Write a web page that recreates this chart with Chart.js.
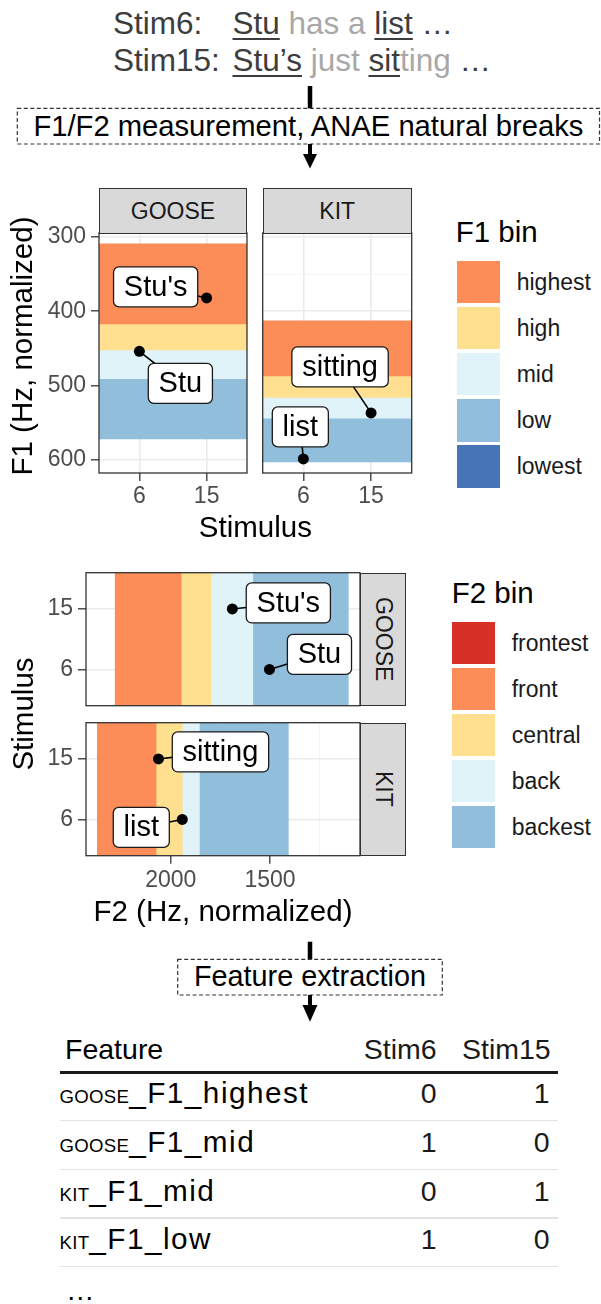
<!DOCTYPE html>
<html>
<head>
<meta charset="utf-8">
<script src="https://cdn.jsdelivr.net/npm/chart.js@4.4.1/dist/chart.umd.min.js"></script>
<style>
html, body { margin: 0; padding: 0; background: #fff; }
body { width: 601px; height: 1304px; position: relative; overflow: hidden;
       font-family: "Liberation Sans", Arial, sans-serif; color: #1a1a1a; }
.abs { position: absolute; white-space: nowrap; }
canvas { position: absolute; }
.sent { font-size: 31.5px; line-height: 31.5px; color: #3d3d3d; }
.sent .lab { display: inline-block; width: 119.5px; }
.sent u { text-decoration-thickness: 2px; text-underline-offset: 4px; }
.sent .g { color: #a8a8a8; }
.strip { position: absolute; box-sizing: border-box; background: #d9d9d9; border: 1.3px solid #333;
         display: flex; align-items: center; justify-content: center; font-size: 23px; color: #1a1a1a; }
.vert { writing-mode: vertical-rl; }
.title { font-size: 29.5px; color: #000; }
.sc { font-size: 18.6px; letter-spacing: 0.3px; }
</style>
</head>
<body>

<div class="abs sent" style="left:113px;top:7.6px"><span class="lab">Stim6:</span><u>Stu</u><span class="g"> has a </span><u>list</u> …</div>
<div class="abs sent" style="left:113px;top:45px"><span class="lab">Stim15:</span><u>Stu’s</u><span class="g"> just </span><u>sit</u><span class="g">ting</span> …</div>

<svg class="abs" width="601" height="1304" style="left:0;top:0">
  <line x1="310" y1="86" x2="310" y2="108.3" stroke="#000" stroke-width="4.5"/>
  <rect x="17.3" y="108.3" width="582.2" height="35.7" fill="none" stroke="#333" stroke-width="1.2" stroke-dasharray="4 2.5"/>
  <line x1="310" y1="144" x2="310" y2="156" stroke="#000" stroke-width="4"/>
  <polygon points="303,154 317,154 310,168.5" fill="#000"/>
  <line x1="310" y1="941.7" x2="310" y2="959.3" stroke="#000" stroke-width="4.5"/>
  <rect x="177.7" y="959.3" width="264.6" height="35.7" fill="none" stroke="#333" stroke-width="1.2" stroke-dasharray="4 2.5"/>
  <line x1="310" y1="995" x2="310" y2="1007" stroke="#000" stroke-width="4"/>
  <polygon points="302.5,1005 317.5,1005 310,1021.7" fill="#000"/>
</svg>

<div class="abs" style="left:17.3px;width:582.2px;text-align:center;font-size:29.2px;line-height:29.2px;top:112px;color:#000">F1/F2 measurement, ANAE natural breaks</div>
<div class="abs" style="left:177.7px;width:264.6px;text-align:center;font-size:28.8px;line-height:28.8px;top:962.3px;color:#000">Feature extraction</div>

<!-- F1 chart -->
<canvas id="f1goose" width="252" height="308" style="left:0;top:210px"></canvas>
<canvas id="f1kit" width="160" height="308" style="left:257px;top:210px"></canvas>
<div class="strip" style="left:99px;top:188px;width:148px;height:46px">GOOSE</div>
<div class="strip" style="left:262.7px;top:188px;width:149px;height:46px">KIT</div>
<div class="abs title" style="left:-128px;top:329px;width:300px;height:34px;line-height:34px;text-align:center;transform:rotate(-90deg)">F1 (Hz, normalized)</div>
<div class="abs title" style="left:155.4px;width:200px;text-align:center;line-height:29.5px;top:512.3px">Stimulus</div>

<!-- F2 chart -->
<div class="strip vert" style="left:360px;top:572.7px;width:46px;height:133px">GOOSE</div>
<div class="strip vert" style="left:360px;top:722.7px;width:46px;height:133px">KIT</div>
<canvas id="f2goose" width="366" height="144" style="left:0;top:567px"></canvas>
<canvas id="f2kit" width="366" height="190" style="left:0;top:717px"></canvas>
<div class="abs title" style="left:-127px;top:697px;width:300px;height:34px;line-height:34px;text-align:center;transform:rotate(-90deg)">Stimulus</div>
<div class="abs title" style="left:73px;width:300px;text-align:center;line-height:29.5px;top:896px">F2 (Hz, normalized)</div>

<script>
// ---- data ----
var stimuli = ['6', '15'];

var f1Bins = ['highest', 'high', 'mid', 'low', 'lowest'];
var f1Colors = ['#fc8d59', '#fee090', '#e0f3f8', '#91bfdb', '#4575b4'];
var f2Bins = ['frontest', 'front', 'central', 'back', 'backest'];
var f2Colors = ['#d73027', '#fc8d59', '#fee090', '#e0f3f8', '#91bfdb'];

// bin edges in Hz, [lo, hi] per bin (null = bin not shown for this vowel)
var gooseF1Breaks = [[309, 417], [417, 452], [452, 491], [491, 572], null];
var kitF1Breaks = [[413, 487], [487, 516], [516, 544], [544, 603], null];
var gooseF2Breaks = [null, [1948, 2280], [1797, 1948], [1587, 1797], [1106, 1587]];
var kitF2Breaks = [null, [2074, 2370], [1942, 2074], [1856, 1942], [1408, 1856]];

// one token per stimulus (Stim6, Stim15)
var gooseWords = ['Stu', "Stu's"];
var kitWords = ['list', 'sitting'];
var gooseF1 = [454, 382];
var kitF1 = [599, 537];
var gooseF2 = [1503, 1690];
var kitF2 = [1942, 2062];

var f1Ticks = [300, 400, 500, 600];
var f1Minor = [350, 450, 550];
var f2Ticks = [1500, 2000];
var f2Minor = [1250, 1750, 2250];

// table
var featureVowels = ['GOOSE', 'GOOSE', 'KIT', 'KIT'];
var featureNames = ['_F1_highest', '_F1_mid', '_F1_mid', '_F1_low'];
var stim6Values = [0, 1, 0, 1];
var stim15Values = [1, 0, 1, 0];

// ---- layout ----
var f1Limits = [294.5, 618];
var f2Limits = [1047, 2427];
var labelOffsets = {
  f1goose: [[41, 32], [-51, -11]],
  f1kit: [[-3, -32], [-31, -46]],
  f2goose: [[50, -15], [56, -6]],
  f2kit: [[-41, 8], [62, -7]]
};
var FONT = '"Liberation Sans", Arial, sans-serif';
Chart.defaults.font.family = FONT;

function roundRect(ctx, x, y, w, h, r) {
  ctx.beginPath();
  ctx.moveTo(x + r, y);
  ctx.arcTo(x + w, y, x + w, y + h, r);
  ctx.arcTo(x + w, y + h, x, y + h, r);
  ctx.arcTo(x, y + h, x, y, r);
  ctx.arcTo(x, y, x + w, y, r);
  ctx.closePath();
}

// panel border + repel-style labels
var panelPlugin = {
  id: 'panel',
  afterDatasetsDraw: function (chart, args, opts) {
    var ctx = chart.ctx, a = chart.chartArea;
    ctx.save();
    ctx.strokeStyle = '#333333';
    ctx.lineWidth = 1.3;
    ctx.strokeRect(a.left, a.top, a.right - a.left, a.bottom - a.top);

    var meta = chart.getDatasetMeta(0);
    ctx.font = '29px ' + FONT;
    ctx.textAlign = 'center';
    ctx.textBaseline = 'middle';
    (opts.labels || []).forEach(function (lab, i) {
      var p = meta.data[i];
      var w = ctx.measureText(lab.text).width + 20.6, h = 40;
      var cx = p.x + lab.dx, cy = p.y + lab.dy;
      var dx = p.x - cx, dy = p.y - cy;
      var tx = dx !== 0 ? (w / 2) / Math.abs(dx) : Infinity;
      var ty = dy !== 0 ? (h / 2) / Math.abs(dy) : Infinity;
      var t = Math.min(tx, ty);
      if (t < 1) {
        ctx.beginPath();
        ctx.moveTo(p.x, p.y);
        ctx.lineTo(cx + dx * t, cy + dy * t);
        ctx.strokeStyle = '#000';
        ctx.lineWidth = 1.6;
        ctx.stroke();
      }
      roundRect(ctx, cx - w / 2, cy - h / 2, w, h, 5.5);
      ctx.fillStyle = '#fff';
      ctx.fill();
      ctx.strokeStyle = '#1a1a1a';
      ctx.lineWidth = 1.3;
      ctx.stroke();
      ctx.fillStyle = '#000';
      ctx.fillText(lab.text, cx, cy + 1);
    });
    ctx.restore();
  }
};

function isMajor(list, c) { return c.tick && list.indexOf(c.tick.value) >= 0; }
function setTicks(vals) {
  return function (s) { s.ticks = vals.map(function (v) { return { value: v }; }); };
}
// force the axis thickness and drop the label overflow padding
function fixSize(size, horizontal) {
  return function (s) {
    if (horizontal) s.height = size; else s.width = size;
    s.paddingTop = 0; s.paddingBottom = 0; s.paddingLeft = 0; s.paddingRight = 0;
  };
}
function valueAxis(major, minor, limits, showTicks, size, horizontal) {
  var all = major.concat(minor).sort(function (a, b) { return a - b; });
  return {
    type: 'linear', min: limits[0], max: limits[1], reverse: true, offset: false,
    afterBuildTicks: setTicks(all),
    afterFit: fixSize(size, horizontal),
    ticks: {
      display: showTicks, autoSkip: false, maxRotation: 0, minRotation: 0,
      color: '#4d4d4d', font: { size: 23 },
      padding: horizontal ? 3 : 5,
      callback: function (v) { return major.indexOf(v) >= 0 ? String(v) : ''; }
    },
    grid: {
      offset: false, drawTicks: showTicks, tickLength: 8, tickWidth: 1.3,
      color: function (c) { return isMajor(major, c) ? '#ebebeb' : '#f4f4f4'; },
      lineWidth: function (c) { return isMajor(major, c) ? 1.6 : 0.9; },
      tickColor: function (c) { return isMajor(major, c) ? '#333333' : 'rgba(0,0,0,0)'; }
    },
    border: { display: false }
  };
}
function stimAxis(showTicks, size, horizontal) {
  return {
    type: 'linear', min: 0.4, max: 2.6, offset: false,
    afterBuildTicks: setTicks([1, 2]),
    afterFit: fixSize(size, horizontal),
    ticks: {
      display: showTicks, autoSkip: false, maxRotation: 0, minRotation: 0,
      color: '#4d4d4d', font: { size: 23 },
      padding: horizontal ? 2 : 5,
      callback: function (v) { return stimuli[v - 1]; }
    },
    grid: { offset: false, drawTicks: showTicks, tickLength: 8, tickWidth: 1.3,
            color: '#ebebeb', lineWidth: 1.6, tickColor: '#333333' },
    border: { display: false }
  };
}

function makePanel(id, breaks, colors, values, words, f1, showValue, padding) {
  var datasets = [{
    type: 'scatter', order: 0,
    data: values.map(function (v, i) { return f1 ? { x: i + 1, y: v } : { x: v, y: i + 1 }; }),
    xAxisID: 'x', yAxisID: 'y',
    backgroundColor: '#000', borderWidth: 0, pointRadius: 5.5, pointHoverRadius: 5.5
  }];
  breaks.forEach(function (b, i) {
    if (!b) return;
    datasets.push({
      type: 'bar', order: 1, data: [b], backgroundColor: colors[i], borderWidth: 0,
      barPercentage: 1, categoryPercentage: 1, grouped: false,
      indexAxis: f1 ? 'x' : 'y',
      xAxisID: f1 ? 'xb' : 'x', yAxisID: f1 ? 'y' : 'yb'
    });
  });
  var scales;
  if (f1) {
    scales = {
      x: stimAxis(true, 45, true),
      xb: { type: 'category', axis: 'x', position: 'bottom', labels: ['band'], display: false },
      y: valueAxis(f1Ticks, f1Minor, f1Limits, showValue, showValue ? 99 : 5.7, false)
    };
  } else {
    scales = {
      x: valueAxis(f2Ticks, f2Minor, f2Limits, showValue, showValue ? 51.3 : 5.3, true),
      y: stimAxis(true, 86, false),
      yb: { type: 'category', axis: 'y', position: 'left', labels: ['band'], display: false }
    };
  }
  return new Chart(document.getElementById(id), {
    type: 'bar',
    data: { datasets: datasets },
    options: {
      responsive: false, animation: false, events: [],
      layout: { padding: padding, autoPadding: false },
      plugins: {
        legend: { display: false }, tooltip: { enabled: false },
        panel: { labels: words.map(function (w, i) {
          return { text: w, dx: labelOffsets[id][i][0], dy: labelOffsets[id][i][1] };
        }) }
      },
      scales: scales
    },
    plugins: [panelPlugin]
  });
}

makePanel('f1goose', gooseF1Breaks, f1Colors, gooseF1, gooseWords, true, true, { top: 23, right: 5, left: 0, bottom: 0 });
makePanel('f1kit', kitF1Breaks, f1Colors, kitF1, kitWords, true, false, { top: 23, right: 5.3, left: 0, bottom: 0 });
makePanel('f2goose', gooseF2Breaks, f2Colors, gooseF2, gooseWords, false, false, { top: 5.7, right: 6, left: 0, bottom: 0 });
makePanel('f2kit', kitF2Breaks, f2Colors, kitF2, kitWords, false, true, { top: 5.7, right: 6, left: 0, bottom: 0 });

// ---- legends ----
function place(html, x, baseline, size, style) {
  var d = document.createElement('div');
  d.className = 'abs';
  d.innerHTML = html;
  d.style.cssText += 'left:' + x + 'px;top:' + (baseline - 0.8465 * size) + 'px;font-size:' + size +
    'px;line-height:' + size + 'px;' + (style || '');
  document.body.appendChild(d);
  return d;
}
function placeRight(html, x, baseline, size) {
  var d = place(html, 0, baseline, size, 'color:#1a1a1a');
  d.style.left = '';
  d.style.right = (601 - x) + 'px';
  return d;
}
function legend(title, bins, colors, tx, tBase, kx, top0, step, kh, lx) {
  place(title, tx, tBase, 29.5, 'color:#000');
  bins.forEach(function (b, i) {
    var k = document.createElement('div');
    k.className = 'abs';
    k.style.cssText = 'left:' + kx + 'px;top:' + (top0 + i * step) + 'px;width:42.5px;height:' + kh +
      'px;background:' + colors[i];
    document.body.appendChild(k);
    place(b, lx, top0 + i * step + kh / 2 + 8.2, 23, 'color:#1a1a1a');
  });
}
legend('F1 bin', f1Bins, f1Colors, 455.7, 242, 457.3, 260.7, 46.1, 42.5, 516.7);
legend('F2 bin', f2Bins, f2Colors, 451.7, 603, 452.3, 622, 46, 42, 511.7);

// ---- table ----
function rule(y, h, color) {
  var r = document.createElement('div');
  r.className = 'abs';
  r.style.cssText = 'left:60px;width:498.3px;top:' + y + 'px;height:' + h + 'px;background:' + color;
  document.body.appendChild(r);
}
place('Feature', 65, 1059.3, 28.5, 'color:#000');
placeRight('Stim6', 436.7, 1059.3, 28.5);
placeRight('Stim15', 550.7, 1059.3, 28.5);
rule(1070.8, 3, '#1a1a1a');
featureVowels.forEach(function (v, i) {
  var base = 1103.3 + i * 48.7;
  place('<span class="sc">' + v + '</span>' + featureNames[i], 59.5, base, 29.7,
        'color:#000;letter-spacing:1.5px');
  placeRight(String(stim6Values[i]), 436.7, base, 28.5);
  placeRight(String(stim15Values[i]), 549.5, base, 28.5);
  rule(base + 16.7, 1.4, '#e3e3e3');
});
place('…', 66, 1300, 28.5, 'color:#000');
</script>
</body>
</html>
